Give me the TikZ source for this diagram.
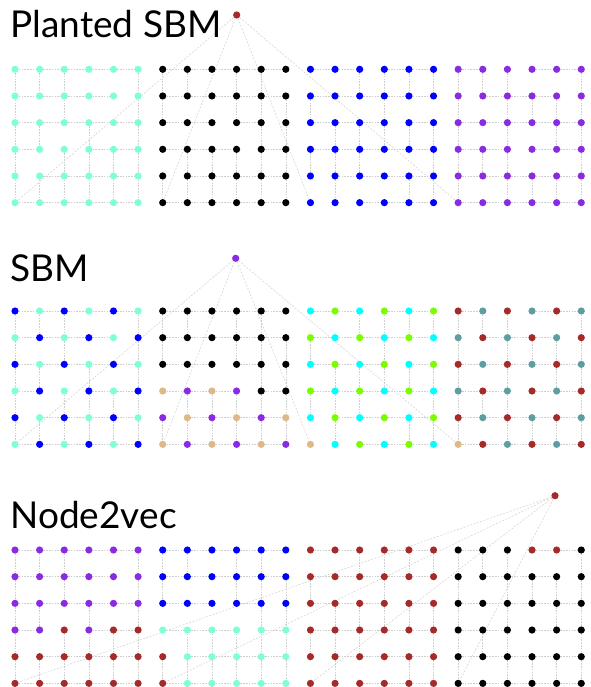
\documentclass[tikz,border=0pt]{standalone}
\usepackage{fontspec}
\setmainfont{Lato}
\usetikzlibrary{backgrounds}

\definecolor{aq}{HTML}{7FFFD4}
\definecolor{bk}{HTML}{000000}
\definecolor{bl}{HTML}{0000FF}
\definecolor{vi}{HTML}{8A2BE2}
\definecolor{br}{HTML}{A52A2A}
\definecolor{tn}{HTML}{DEB887}
\definecolor{cy}{HTML}{00FFFF}
\definecolor{lg}{HTML}{7CFC00}
\definecolor{cb}{HTML}{5F9EA0}
\definecolor{linkgray}{HTML}{CFCFCF}

\tikzset{
  dot/.style={circle, inner sep=0pt, minimum size=7.2pt},
  link/.style={draw=linkgray, dash pattern=on 1.6pt off 1.2pt, line width=0.6pt},
  hublink/.style={draw=linkgray, dash pattern=on 2pt off 1.5pt, line width=0.5pt},
  title/.style={anchor=base west, inner sep=0pt, font=\fontsize{37}{44}\selectfont}
}

% lattice edges (same graph in every panel), row/col of the left or upper end
\def\hlinks{0/{0,1,2,3,4,6,7,8,9,10,12,13,15,16,18,21,22},
  1/{0,1,2,3,6,7,8,9,10,12,13,14,15,16,19,20,21},
  2/{0,1,2,3,4,6,7,9,12,13,14,16,18,19,20,21,22},
  3/{0,3,4,6,7,8,10,12,13,14,15,16,18,19,21,22},
  4/{1,2,3,4,7,8,9,10,13,14,15,16,18,19,20,21,22},
  5/{0,1,2,3,4,6,7,8,9,10,14,15,16,18,19,20,21,22}}
\def\vlinks{0/{0,1,2,5,6,7,9,10,14,15,16,17,18,19,20,23},
  1/{0,2,5,6,9,10,11,12,15,18,20,21,22,23},
  2/{0,1,3,5,10,11,13,14,15,16,17,18,20,22,23},
  3/{0,2,3,4,5,7,8,9,10,11,12,13,14,17,18,19,20,23},
  4/{0,1,2,3,4,5,6,7,8,9,10,11,13,16,17,18,20,21,22,23}}

% node colours, one row of 24 per line
\def\colsA{{aq,aq,aq,aq,aq,aq,bk,bk,bk,bk,bk,bk,bl,bl,bl,bl,bl,bl,vi,vi,vi,vi,vi,vi},
  {aq,aq,aq,aq,aq,aq,bk,bk,bk,bk,bk,bk,bl,bl,bl,bl,bl,bl,vi,vi,vi,vi,vi,vi},
  {aq,aq,aq,aq,aq,aq,bk,bk,bk,bk,bk,bk,bl,bl,bl,bl,bl,bl,vi,vi,vi,vi,vi,vi},
  {aq,aq,aq,aq,aq,aq,bk,bk,bk,bk,bk,bk,bl,bl,bl,bl,bl,bl,vi,vi,vi,vi,vi,vi},
  {aq,aq,aq,aq,aq,aq,bk,bk,bk,bk,bk,bk,bl,bl,bl,bl,bl,bl,vi,vi,vi,vi,vi,vi},
  {aq,aq,aq,aq,aq,aq,bk,bk,bk,bk,bk,bk,bl,bl,bl,bl,bl,bl,vi,vi,vi,vi,vi,vi}}
\def\colsB{{bl,aq,bl,aq,bl,aq,bk,bk,bk,bk,bk,bk,cy,lg,cy,lg,cy,lg,br,cb,br,cb,br,cb},
  {aq,bl,aq,bl,aq,bl,bk,bk,bk,bk,bk,bk,lg,cy,lg,cy,lg,cy,cb,br,cb,br,cb,br},
  {bl,aq,bl,aq,bl,aq,bk,bk,bk,bk,bk,bk,cy,lg,cy,lg,cy,lg,br,cb,br,cb,br,cb},
  {aq,bl,aq,bl,aq,bl,tn,vi,tn,vi,bk,bk,lg,cy,lg,cy,lg,cy,cb,br,cb,br,cb,br},
  {bl,aq,bl,aq,bl,aq,vi,tn,vi,tn,vi,tn,cy,lg,cy,lg,cy,lg,br,cb,br,cb,br,cb},
  {aq,bl,aq,bl,aq,bl,tn,vi,tn,vi,tn,vi,tn,cy,lg,cy,lg,cy,tn,br,cb,br,cb,br}}
\def\colsC{{vi,vi,vi,vi,vi,vi,bl,bl,bl,bl,bl,bl,br,br,br,br,br,br,bk,bk,bk,br,br,bk},
  {vi,vi,vi,vi,vi,vi,bl,bl,bl,bl,bl,bl,br,br,br,br,br,br,bk,bk,bk,bk,bk,bk},
  {vi,vi,vi,vi,vi,vi,bl,bl,bl,bl,bl,bl,br,br,br,br,br,br,bk,bk,bk,bk,bk,bk},
  {vi,vi,br,vi,br,br,aq,aq,aq,aq,aq,aq,br,br,br,br,br,br,bk,bk,bk,bk,bk,bk},
  {br,br,br,br,br,br,br,aq,aq,aq,aq,aq,br,br,br,br,br,br,bk,bk,bk,bk,bk,bk},
  {br,br,br,br,br,br,br,aq,aq,aq,aq,aq,br,br,br,br,br,br,bk,bk,bk,bk,bk,bk}}

% #1 name, #2 y of top row, #3 colours, #4 hub colour, #5/#6 hub, #7 title, #8 title baseline
\newcommand{\drawpanel}[8]{
  \node[title] (#1-title) at (10.3, #8) {#7};
  \foreach \rowcols [count=\row from 0] in #3 {
    \foreach \cc [count=\col from 0] in \rowcols {
      \node[dot, fill=\cc] (#1-\row-\col) at ({15+\col*24.62}, {#2+\row*26.67}) {};
    }
  }
  \node[dot, fill=#4] (#1-hub) at (#5, #6) {};
  \begin{pgfonlayer}{background}
    \foreach \row/\cols in \hlinks {
      \foreach \col [evaluate=\col as \nxt using int(\col+1)] in \cols {
        \draw[link] (#1-\row-\col) -- (#1-\row-\nxt);
      }
    }
    \foreach \row/\cols in \vlinks {
      \foreach \col [evaluate=\row as \nxt using int(\row+1)] in \cols {
        \draw[link] (#1-\row-\col) -- (#1-\nxt-\col);
      }
    }
    % hub joins the bottom left node of each block
    \foreach \col in {0,6,12,18} {
      \draw[hublink] (#1-hub) -- (#1-5-\col);
    }
  \end{pgfonlayer}
}

\begin{document}
\begin{tikzpicture}[x=1pt, y=-1pt]
  \useasboundingbox (0,0) rectangle (590,687);
  \drawpanel{ps}{69.3}{\colsA}{br}{236.7}{15}{Planted SBM}{37.8}
  \drawpanel{sbm}{311}{\colsB}{vi}{235.7}{258.3}{SBM}{281.7}
  \drawpanel{nv}{550}{\colsC}{br}{555}{495.7}{Node2vec}{528.3}
\end{tikzpicture}
\end{document}
